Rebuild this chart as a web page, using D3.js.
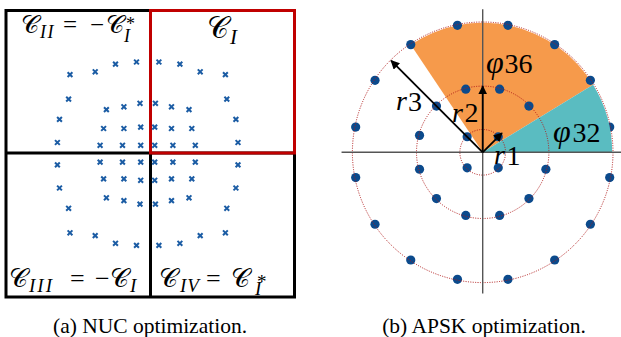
<!DOCTYPE html>
<html>
<head>
<meta charset="utf-8">
<script src="https://cdn.jsdelivr.net/npm/d3@7"></script>
<style>
  body { margin: 0; background: #fff; }
  svg { display: block; }
</style>
</head>
<body>
<svg id="fig" width="621" height="337"></svg>
<script>
// ---- data ----
// (a) NUC: first-quadrant points of C_I (in-phase / quadrature)
const nucRe = [0.16, 0.46, 0.75, 1.11, 1.13, 1.26, 1.29,
               0.11, 0.34, 0.59, 0.10, 0.34, 0.63, 0.10, 0.36, 0.68];
const nucIm = [1.31, 1.28, 1.17, 1.13, 0.78, 0.49, 0.16,
               0.72, 0.67, 0.63, 0.38, 0.36, 0.36, 0.12, 0.12, 0.12];
// quadrant signs: C_I, C_II = -C_I*, C_III = -C_I, C_IV = C_I*
const quadSignRe = [1, -1, -1, 1];
const quadSignIm = [1, 1, -1, -1];

// (b) APSK rings
const ringRadius = [0.17, 0.505, 1.0];
const ringPoints = [4, 12, 16];
const ringPhase = [45, 15, 11.25];   // degrees
// highlighted sectors (degrees, counter-clockwise from real axis)
const sectorLabels = ["φ36", "φ32"];
const sectorFrom = [31.5, 0];
const sectorTo = [123.75, 31.5];
const sectorColors = ["#f69a4b", "#5abcc1"];
// radius arrows
const arrowLabels = ["r1", "r2", "r3"];
const arrowAngle = [45, 90, 135];

const captions = ["(a) NUC optimization.", "(b) APSK optimization."];

// ---- layout ----
const svg = d3.select("#fig");
const FONT = '"Liberation Serif"';
const box = { left: 6, right: 294.5, top: 10.5, bottom: 297, midX: 150.5, midY: 153 };
const nucCx = 147.7, nucCy = 153.7, nucUnit = 70;
const apCx = 482.7, apCy = 152.3, apR = 129.5;

const nx = d3.scaleLinear().domain([-1, 1]).range([nucCx - nucUnit, nucCx + nucUnit]);
const ny = d3.scaleLinear().domain([-1, 1]).range([nucCy + nucUnit, nucCy - nucUnit]);

// ---- (a) NUC panel ----
const left = svg.append("g");

// four quadrant frames
left.append("path")
    .attr("d", `M${box.left},${box.top}H${box.midX}V${box.midY}H${box.left}Z` +
               `M${box.left},${box.midY}H${box.midX}V${box.bottom}H${box.left}Z` +
               `M${box.midX},${box.midY}H${box.right}V${box.bottom}H${box.midX}Z`)
    .attr("fill", "none").attr("stroke", "#000").attr("stroke-width", 3);
left.append("rect")
    .attr("x", box.midX).attr("y", box.top)
    .attr("width", box.right - box.midX).attr("height", box.midY - box.top)
    .attr("fill", "none").attr("stroke", "#c00000").attr("stroke-width", 3);

const nucPts = [];
quadSignRe.forEach((sr, q) => {
  nucRe.forEach((re, i) => nucPts.push({ re: sr * re, im: quadSignIm[q] * nucIm[i] }));
});
const xs = 2.4;
left.selectAll("path.mk").data(nucPts).join("path")
    .attr("class", "mk")
    .attr("d", d => {
      const x = nx(d.re), y = ny(d.im);
      return `M${x - xs},${y - xs}L${x + xs},${y + xs}M${x - xs},${y + xs}L${x + xs},${y - xs}`;
    })
    .attr("stroke", "#1b5ca4").attr("stroke-width", 2);

// math label helper: parts = [text, font size, x, y, italic, letter-spacing]
function mathLabel(g, parts) {
  const t = g.append("text").style("font-family", FONT);
  parts.forEach(p => {
    t.append("tspan").text(p[0])
        .attr("font-size", p[1])
        .attr("x", p[2]).attr("y", p[3])
        .attr("font-style", p[4] ? "italic" : "normal")
        .attr("letter-spacing", p[5] || 0);
  });
  return t;
}
const C = "𝒞";
mathLabel(left, [[C, 25, 21, 33.3], ["II", 18, 40, 37.5, 1, 1.5], ["=", 25, 63, 33.3], ["−", 25, 90, 33.3],
  [C, 25, 106, 33.3], ["*", 18, 126, 30], ["I", 18, 124, 41.5, 1]]);
mathLabel(left, [[C, 30, 207, 38], ["I", 21, 230, 43.5, 1]]);
mathLabel(left, [[C, 26, 9, 286.7], ["III", 19, 29, 292, 1, 2], ["=", 26, 70, 286.7], ["−", 26, 95, 286.7],
  [C, 26, 110, 286.7], ["I", 19, 130, 292, 1]]);
mathLabel(left, [[C, 26, 159, 286.7], ["IV", 19, 180, 292, 1, 1], ["=", 26, 206, 286.7],
  [C, 26, 231, 286.7], ["*", 19, 257, 287.5], ["I", 19, 255, 294.5, 1]]);

// ---- (b) APSK panel ----
const right = svg.append("g").attr("transform", `translate(${apCx},${apCy})`);
const rs = d3.scaleLinear().domain([0, 1]).range([0, apR]);
const rad = a => a * Math.PI / 180;
const arc = d3.arc().innerRadius(0);

// orange sector under the points
right.append("path")
    .attr("d", arc({ outerRadius: rs(1), startAngle: rad(90 - sectorTo[0]), endAngle: rad(90 - sectorFrom[0]) }))
    .attr("fill", sectorColors[0]);

const apPts = [];
ringPoints.forEach((n, k) => {
  for (let i = 0; i < n; i++) {
    const a = rad(ringPhase[k] + i * 360 / n);
    apPts.push({ x: rs(ringRadius[k]) * Math.cos(a), y: -rs(ringRadius[k]) * Math.sin(a) });
  }
});
right.selectAll("circle.pt").data(apPts).join("circle")
    .attr("class", "pt")
    .attr("cx", d => d.x).attr("cy", d => d.y).attr("r", 4.6)
    .attr("fill", "#0b4a8c");

// teal sector drawn over the points
right.append("path")
    .attr("d", arc({ outerRadius: rs(1), startAngle: rad(90 - sectorTo[1]), endAngle: rad(90 - sectorFrom[1]) }))
    .attr("fill", sectorColors[1]);

// dotted rings
right.selectAll("circle.ring").data(ringRadius).join("circle")
    .attr("class", "ring")
    .attr("r", d => rs(d) + 0.8)
    .attr("fill", "none").attr("stroke", "#b01818")
    .attr("stroke-width", 1).attr("stroke-dasharray", "1 1.4");

// axes
right.append("path")
    .attr("d", `M${-rs(1.09)},0H${rs(1.07)}M0,${-rs(1.105)}V${rs(1.09)}`)
    .attr("stroke", "#555").attr("stroke-width", 1.4);

// arrows
svg.append("defs").append("marker")
    .attr("id", "ah").attr("viewBox", "0 0 10 10")
    .attr("refX", 9).attr("refY", 5)
    .attr("markerWidth", 5).attr("markerHeight", 5)
    .attr("orient", "auto")
    .append("path").attr("d", "M0,0L10,5L0,10Z").attr("fill", "#000");
const arrowLen = [ringRadius[0] + 0.04, ringRadius[1] + 0.005, ringRadius[2]];
right.selectAll("line.arr").data(arrowAngle).join("line")
    .attr("class", "arr")
    .attr("x1", 0).attr("y1", 0)
    .attr("x2", (d, i) => rs(arrowLen[i]) * Math.cos(rad(d)))
    .attr("y2", (d, i) => -rs(arrowLen[i]) * Math.sin(rad(d)))
    .attr("stroke", "#000").attr("stroke-width", 1.8)
    .attr("marker-end", "url(#ah)");

// labels: italic symbol followed by its index
const lbl = svg.append("g");
const sym = (s, x, y, size, gap) => mathLabel(lbl, [[s[0], size, x, y, 1], [s.slice(1), 28, x + gap, y + 0.5]]);
sym(arrowLabels[0], 494, 164, 28, 12.5);
sym(arrowLabels[1], 452, 121.5, 28, 12.5);
sym(arrowLabels[2], 396, 110, 28, 12);
sym(sectorLabels[0], 486, 72.5, 32, 18.5);
sym(sectorLabels[1], 553, 141.5, 32, 19.5);

// captions
svg.selectAll("text.cap").data(captions).join("text")
    .attr("class", "cap")
    .attr("x", (d, i) => i === 0 ? 150 : 484)
    .attr("y", 333)
    .attr("text-anchor", "middle")
    .style("font-family", FONT)
    .attr("font-size", 21.5)
    .text(d => d);
</script>
</body>
</html>
